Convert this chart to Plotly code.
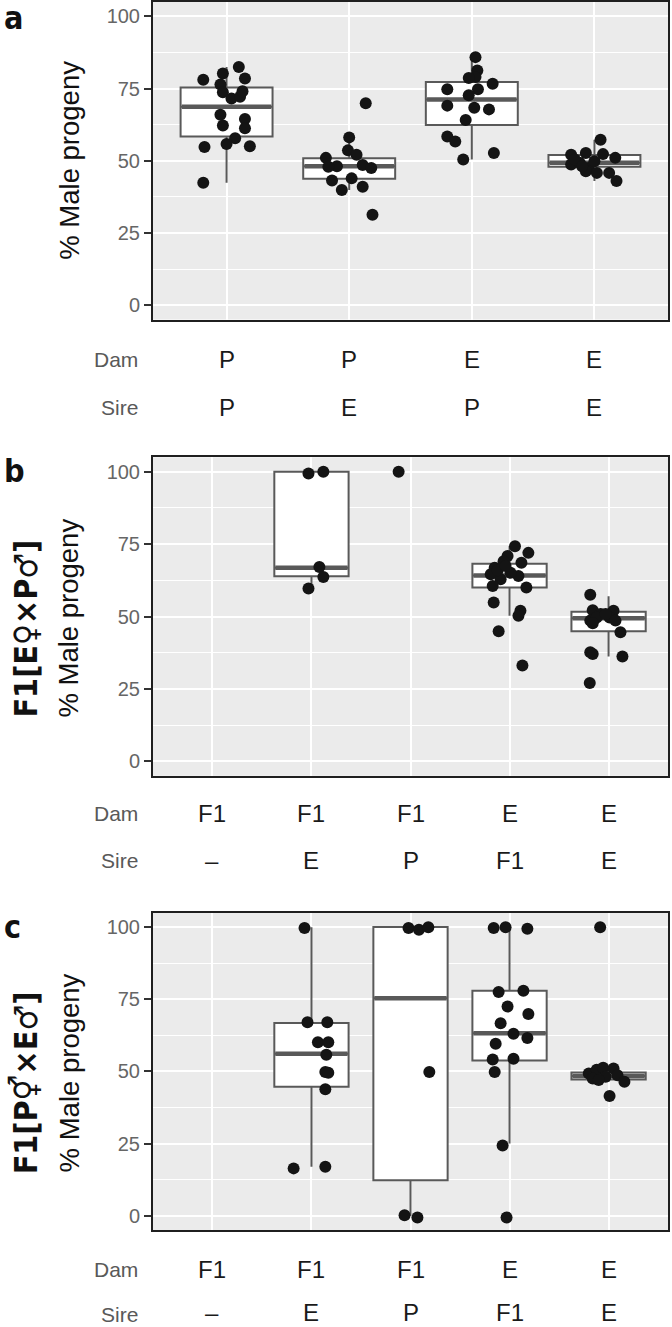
import plotly.graph_objects as go

W, H = 672, 1327

# ---------------- data ----------------
# Panel a
a_dam = ["P", "P", "E", "E"]
a_sire = ["P", "E", "P", "E"]
a_PxP = [78.1, 80.2, 82.5, 78.5, 76.4, 73.7, 71.6, 72.2, 74.1, 65.9, 64.5, 62.2, 61.3, 57.8, 55.8, 54.8, 55.0, 42.4]
a_PxP_jit = [-0.19, -0.03, 0.10, 0.15, -0.05, -0.03, 0.04, 0.11, 0.13, -0.05, 0.15, -0.03, 0.15, 0.07, 0.0, -0.18, 0.19, -0.19]
a_PxE = [69.9, 58.1, 53.6, 52.1, 51.0, 48.1, 47.9, 48.5, 47.5, 43.2, 43.9, 39.9, 41.0, 31.3]
a_PxE_jit = [0.135, 0.0, -0.01, 0.06, -0.19, -0.10, -0.17, 0.11, 0.18, -0.14, 0.02, -0.06, 0.11, 0.19]
a_ExP = [85.9, 81.3, 79.0, 78.7, 76.7, 74.8, 74.8, 72.7, 69.1, 68.4, 67.8, 64.1, 58.4, 56.7, 52.7, 50.4]
a_ExP_jit = [0.03, 0.045, 0.03, -0.025, 0.17, -0.20, 0.05, -0.025, -0.20, 0.02, 0.14, -0.05, -0.20, -0.135, 0.18, -0.07]
a_ExE = [57.3, 52.1, 52.7, 52.3, 51.0, 48.7, 49.3, 47.5, 49.8, 50.4, 46.4, 45.8, 45.8, 43.0, 48.1]
a_ExE_jit = [0.05, -0.19, -0.07, 0.07, 0.17, -0.19, -0.12, -0.05, 0.0, -0.16, -0.07, 0.02, 0.12, 0.18, -0.10]
a_q1 = [58.4, 43.8, 62.4, 47.9]
a_median = [68.7, 48.1, 71.2, 49.3]
a_q3 = [75.4, 50.9, 77.3, 52.0]
a_lower = [42.4, 39.9, 50.4, 43.0]
a_upper = [82.5, 58.1, 85.9, 57.3]

# Panel b
b_dam = ["F1", "F1", "F1", "E", "E"]
b_sire = ["\u2013", "E", "P", "F1", "E"]
b_F1xN = []
b_F1xN_jit = []
b_F1xE = [99.4, 100.0, 67.1, 63.7, 59.7]
b_F1xE_jit = [-0.03, 0.12, 0.08, 0.12, -0.03]
b_F1xP = [100.0]
b_F1xP_jit = [-0.12]
b_ExF1 = [74.3, 72.0, 70.9, 68.6, 66.9, 69.1, 64.6, 64.0, 62.9, 60.6, 60.0, 65.1, 54.9, 52.0, 50.3, 44.9, 33.1, 66.0, 67.5]
b_ExF1_jit = [0.055, 0.19, -0.02, 0.12, -0.15, -0.06, -0.19, 0.09, -0.09, -0.17, 0.17, 0.01, -0.16, 0.11, 0.09, -0.11, 0.13, -0.12, -0.04]
b_ExE = [57.5, 52.2, 50.9, 52.0, 48.6, 49.7, 49.7, 48.6, 44.6, 47.7, 37.7, 37.1, 36.2, 27.1, 50.9]
b_ExE_jit = [-0.185, -0.16, -0.08, 0.05, -0.185, -0.12, 0.01, 0.07, 0.12, -0.16, -0.185, -0.16, 0.14, -0.19, -0.03]
b_q1 = [None, 63.9, None, 60.0, 44.9]
b_median = [None, 66.9, None, 64.2, 49.4]
b_q3 = [None, 100.0, None, 68.2, 51.7]
b_lower = [None, 59.7, None, 50.3, 36.2]
b_upper = [None, 100.0, None, 74.3, 57.0]

# Panel c
c_dam = ["F1", "F1", "F1", "E", "E"]
c_sire = ["\u2013", "E", "P", "F1", "E"]
c_F1xN = []
c_F1xN_jit = []
c_F1xE = [99.7, 67.0, 67.0, 60.1, 60.1, 55.8, 49.8, 49.5, 43.8, 16.4, 17.0]
c_F1xE_jit = [-0.07, -0.04, 0.16, 0.065, 0.17, 0.15, 0.14, 0.17, 0.14, -0.18, 0.14]
c_F1xP = [99.7, 99.1, 99.9, 49.8, 0.2, -0.6]
c_F1xP_jit = [-0.02, 0.085, 0.18, 0.19, -0.06, 0.07]
c_ExF1 = [99.7, 99.9, 99.4, 77.5, 77.9, 72.5, 69.9, 66.7, 63.0, 61.6, 59.6, 54.1, 54.4, 49.8, 24.3, -0.6]
c_ExF1_jit = [-0.16, -0.04, 0.18, -0.11, 0.14, -0.02, 0.19, -0.09, 0.04, 0.18, -0.14, -0.17, 0.04, -0.15, -0.07, -0.03]
c_ExE = [99.9, 49.3, 50.6, 51.3, 51.0, 48.1, 48.7, 46.4, 47.5, 41.5, 47.0]
c_ExE_jit = [-0.085, -0.2, -0.12, -0.055, 0.05, -0.03, 0.09, 0.16, -0.16, 0.01, -0.1]
c_q1 = [None, 44.7, 12.3, 53.8, 47.2]
c_median = [None, 56.1, 75.3, 63.2, 48.4]
c_q3 = [None, 66.8, 100.0, 77.9, 49.6]
c_lower = [None, 17.0, 0.0, 25.0, 46.4]
c_upper = [None, 99.9, 100.0, 99.9, 51.3]

y_ticks = [0, 25, 50, 75, 100]
y_title = "% Male progeny"
b_title = "F1[E\u2640\u00d7P\u2642]"
c_title = "F1[P\u26a5\u00d7E\u2642]"

# ---------------- style ----------------
BG = "#EBEBEB"
BOXC = "#595959"
PTC = "#141414"
TICKC = "#666666"
FONT = "Liberation Sans, Arial, Helvetica, sans-serif"
BOLDFONT = "Liberation Sans Narrow, DejaVu Sans Condensed, Liberation Sans, DejaVu Sans, sans-serif"
BOXW = 0.75

def xp(px):
    return px / W

def yp(py):
    return 1 - py / H

panels = [
    dict(key="", dam=a_dam, sire=a_sire,
         groups=[(a_PxP, a_PxP_jit), (a_PxE, a_PxE_jit), (a_ExP, a_ExP_jit), (a_ExE, a_ExE_jit)],
         q1=a_q1, med=a_median, q3=a_q3, lo=a_lower, hi=a_upper,
         top=0, bot=318, dam_y=358, sire_y=406, letter="a", letter_y=16, bold=None),
    dict(key="2", dam=b_dam, sire=b_sire,
         groups=[(b_F1xN, b_F1xN_jit), (b_F1xE, b_F1xE_jit), (b_F1xP, b_F1xP_jit), (b_ExF1, b_ExF1_jit), (b_ExE, b_ExE_jit)],
         q1=b_q1, med=b_median, q3=b_q3, lo=b_lower, hi=b_upper,
         top=456, bot=775, dam_y=813, sire_y=860, letter="b", letter_y=470, bold=b_title),
    dict(key="3", dam=c_dam, sire=c_sire,
         groups=[(c_F1xN, c_F1xN_jit), (c_F1xE, c_F1xE_jit), (c_F1xP, c_F1xP_jit), (c_ExF1, c_ExF1_jit), (c_ExE, c_ExE_jit)],
         q1=c_q1, med=c_median, q3=c_q3, lo=c_lower, hi=c_upper,
         top=912, bot=1230, dam_y=1269, sire_y=None, letter="c", letter_y=926, bold=c_title),
]

fig = go.Figure()
annotations = []
LEFT, RIGHT = 153, 668

for p in panels:
    k = p["key"]
    xa, ya = "x" + k, "y" + k
    n = len(p["dam"])
    cats = list(range(1, n + 1))
    # boxes
    for i, c in enumerate(cats):
        if p["q1"][i] is None:
            continue
        fig.add_trace(go.Box(
            x=[c], q1=[p["q1"][i]], median=[p["med"][i]], q3=[p["q3"][i]],
            lowerfence=[p["lo"][i]], upperfence=[p["hi"][i]],
            width=BOXW, fillcolor="white", line=dict(color=BOXC, width=2),
            boxpoints=False, whiskerwidth=0, xaxis=xa, yaxis=ya,
            showlegend=False, hoverinfo="skip"))
        fig.add_trace(go.Scatter(
            x=[c - BOXW / 2 + 0.01, c + BOXW / 2 - 0.01], y=[p["med"][i]] * 2,
            mode="lines", line=dict(color=BOXC, width=4.5),
            xaxis=xa, yaxis=ya, showlegend=False, hoverinfo="skip"))
    # points
    for i, (vals, jit) in enumerate(p["groups"]):
        if not vals:
            continue
        fig.add_trace(go.Scatter(
            x=[cats[i] + j for j in jit], y=vals, mode="markers",
            marker=dict(color=PTC, size=12, line=dict(width=0)),
            xaxis=xa, yaxis=ya, showlegend=False, hoverinfo="skip"))

    dom_x = [xp(LEFT), xp(RIGHT)]
    dom_y = [yp(p["bot"]), min(1.0, yp(p["top"]))]
    fig.update_layout(**{
        "xaxis" + k: dict(domain=dom_x, anchor=ya, range=[0.4, n + 0.6],
                          tickvals=cats, showticklabels=False, ticks="",
                          showgrid=True, gridcolor="white", gridwidth=2,
                          zeroline=False, showline=True, linecolor="#1f1f1f",
                          linewidth=2, mirror=True, fixedrange=True),
        "yaxis" + k: dict(domain=dom_y, anchor=xa, range=[-5, 105],
                          tickvals=y_ticks, ticks="outside", ticklen=7,
                          tickwidth=1.5, tickcolor="#333333",
                          tickfont=dict(family=FONT, size=20, color=TICKC),
                          showgrid=True, gridcolor="white", gridwidth=2,
                          minor=dict(dtick=12.5, tick0=0, showgrid=True,
                                     gridcolor="white", gridwidth=1, ticks=""),
                          zeroline=False, showline=True, linecolor="#1f1f1f",
                          linewidth=2, mirror=True, fixedrange=True),
    })

    # Dam / Sire rows
    rows = [("Dam", p["dam"], p["dam_y"]), ("Sire", p["sire"], p["sire_y"])]
    for lab, labels, yy in rows:
        if yy is None:
            ypos, yanc = 0.0, "bottom"   # last row sits on the page's bottom edge
        else:
            ypos, yanc = yp(yy), "middle"
        annotations.append(dict(text=lab, x=xp(139), y=ypos, xref="paper", yref="paper",
                                xanchor="right", yanchor=yanc, showarrow=False, borderpad=0,
                                font=dict(family=FONT, size=21, color="#595959")))
        for i, c in enumerate(cats):
            annotations.append(dict(text=labels[i], x=c, xref=xa, y=ypos, yref="paper",
                                    xanchor="center", yanchor=yanc, showarrow=False, borderpad=0,
                                    font=dict(family=FONT, size=24, color="#1a1a1a")))
    # panel letter
    annotations.append(dict(text="<b>" + p["letter"] + "</b>", x=xp(2), y=yp(p["letter_y"]),
                            xref="paper", yref="paper", xanchor="left", yanchor="middle",
                            showarrow=False, font=dict(family=BOLDFONT, size=32, color="#111111")))
    # y titles
    mid = (p["top"] + p["bot"]) / 2
    if p["bold"] is None:
        annotations.append(dict(text=y_title, x=xp(70), y=yp(mid), xref="paper", yref="paper",
                                textangle=-90, xanchor="center", yanchor="middle", showarrow=False,
                                font=dict(family=FONT, size=27.5, color="#111111")))
    else:
        annotations.append(dict(text="<b>" + p["bold"] + "</b>", x=xp(26), y=yp(mid + 12),
                                xref="paper", yref="paper",
                                textangle=-90, xanchor="center", yanchor="middle", showarrow=False,
                                font=dict(family=BOLDFONT, size=32, color="#111111")))
        annotations.append(dict(text=y_title, x=xp(69), y=yp(mid + 2), xref="paper", yref="paper",
                                textangle=-90, xanchor="center", yanchor="middle", showarrow=False,
                                font=dict(family=FONT, size=27.5, color="#111111")))

fig.update_layout(
    width=W, height=H, margin=dict(l=0, r=0, t=0, b=0),
    paper_bgcolor="white", plot_bgcolor=BG,
    annotations=annotations, showlegend=False,
)

fig.write_html("out.html", config={"displayModeBar": False},
               post_script="document.body.style.margin='0';document.body.style.padding='0';")
